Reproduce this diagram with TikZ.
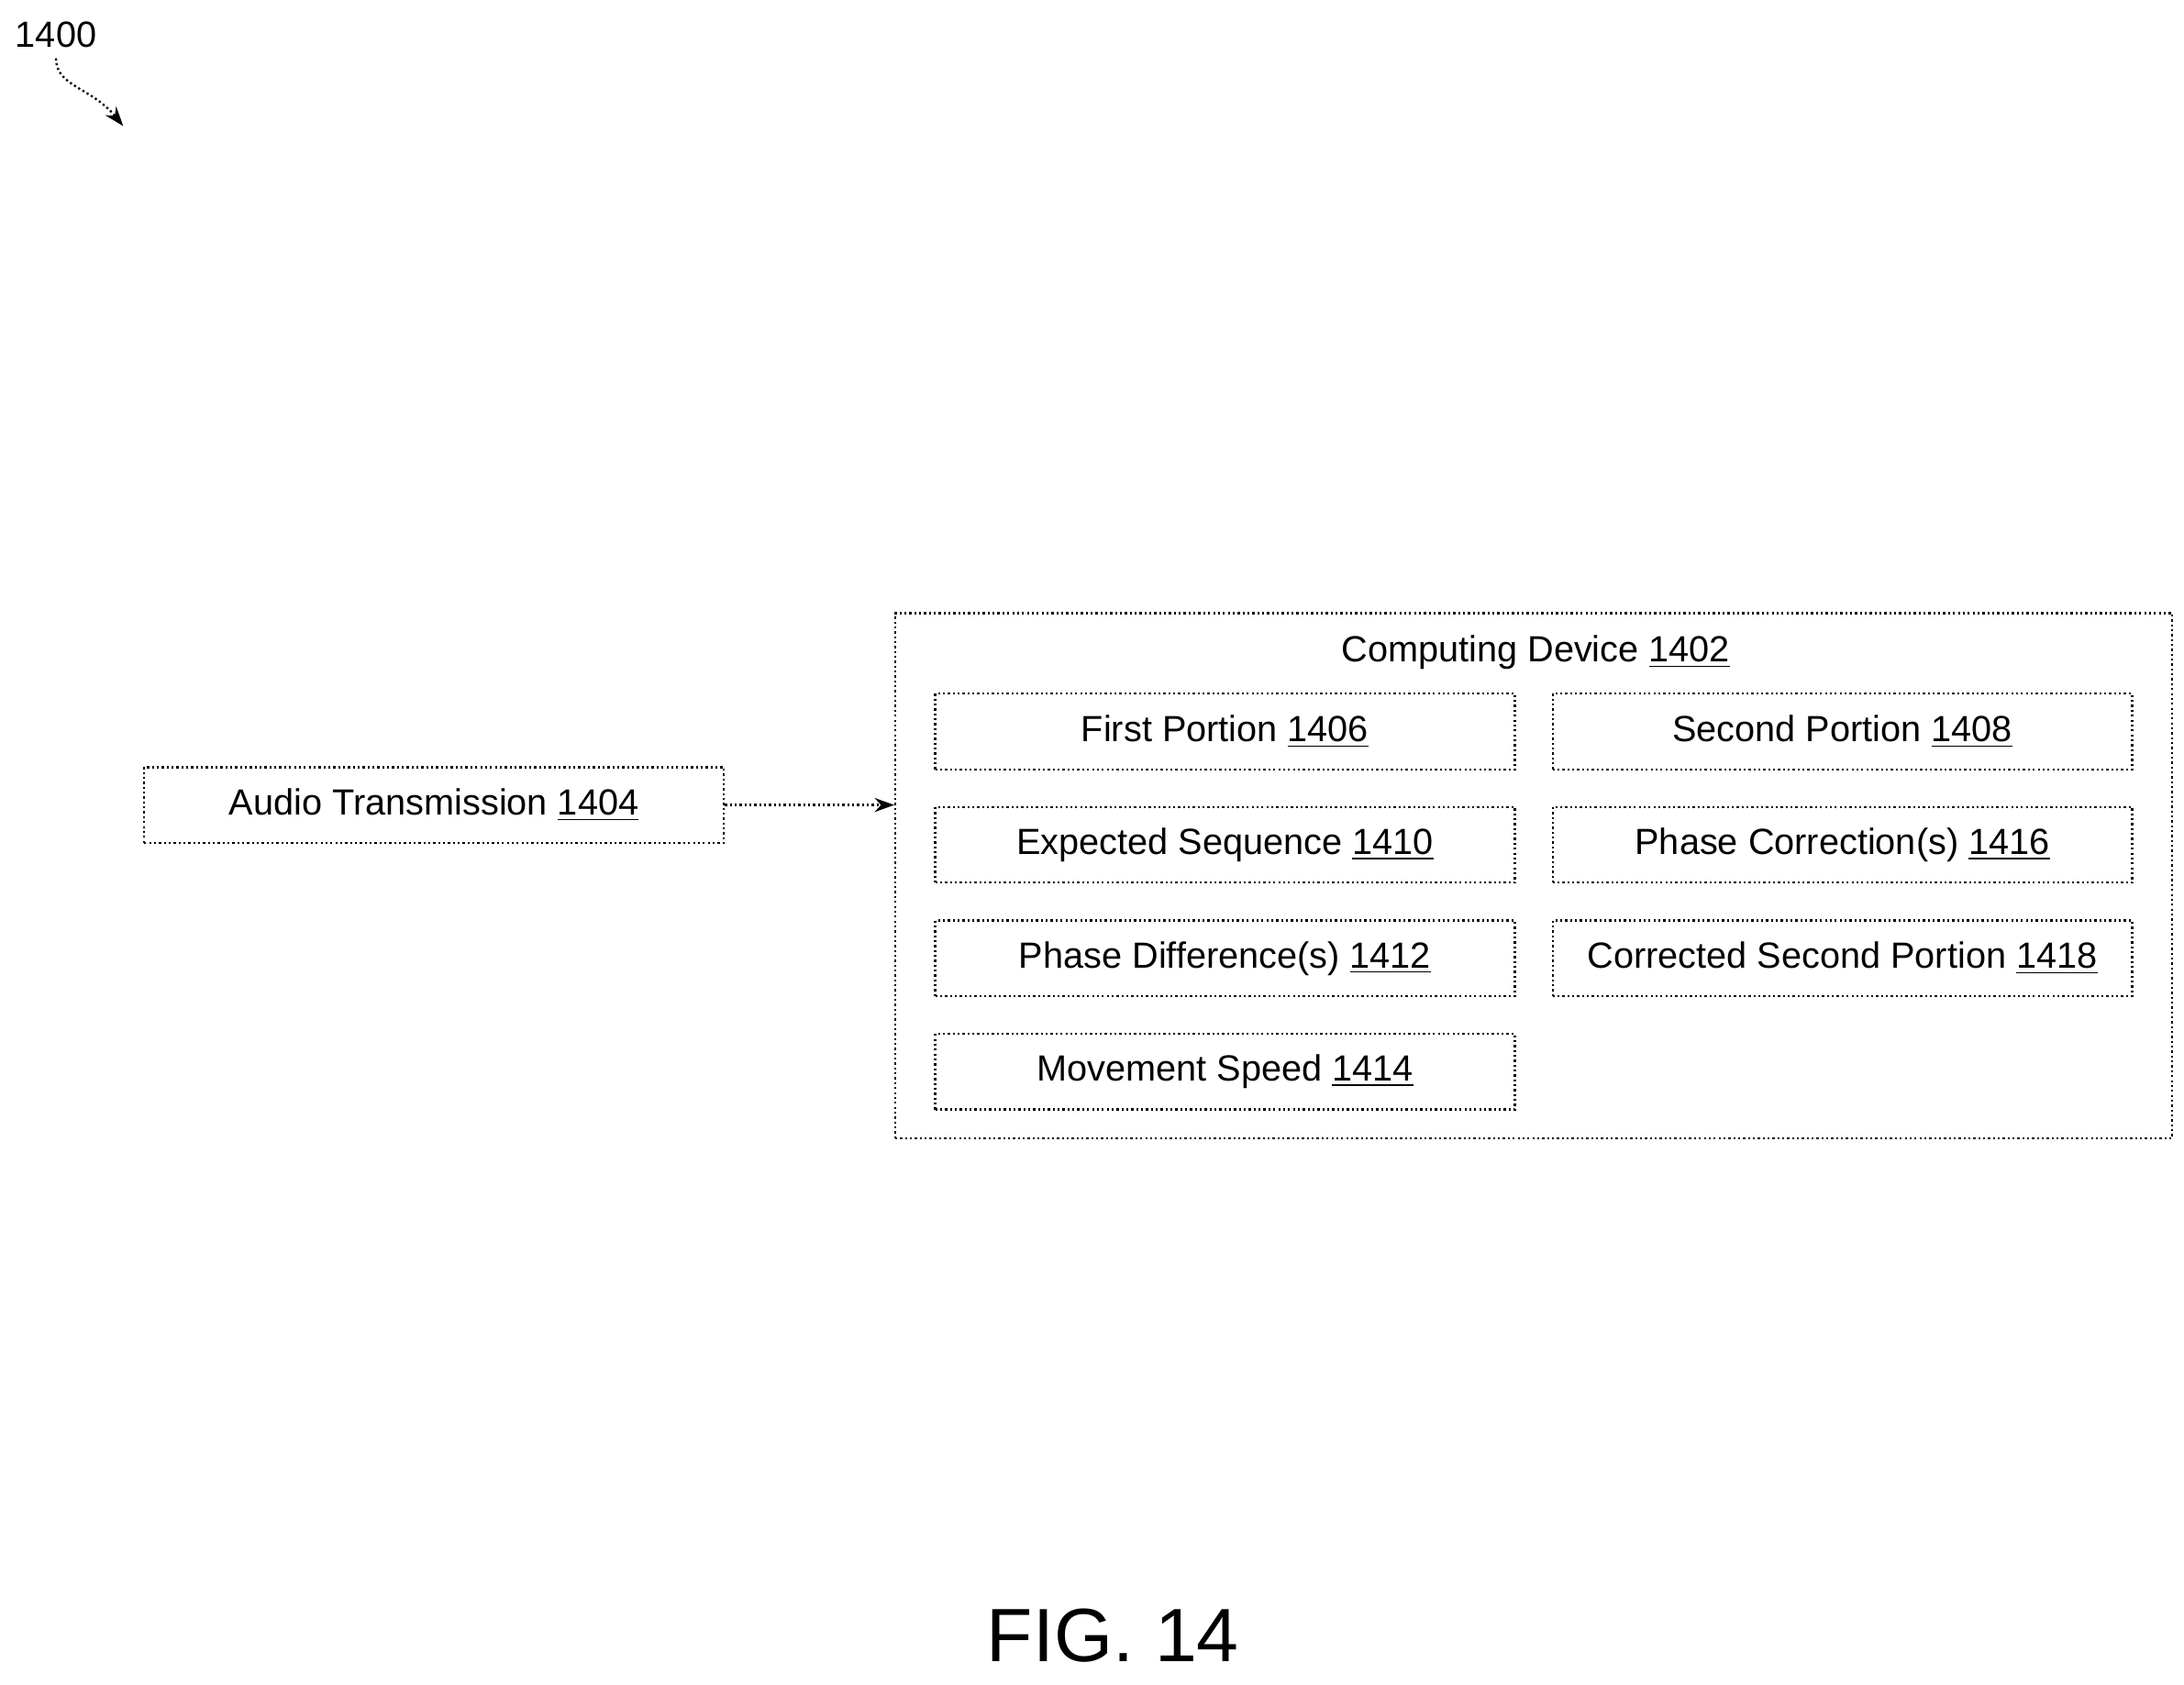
\documentclass[tikz,border=0pt]{standalone}
\usepackage{fontspec}
\setmainfont{Liberation Sans}
\usetikzlibrary{arrows.meta}
\tikzset{every picture/.style={line width=0.75pt}}
\tikzset{
  box/.style={draw, densely dotted, minimum width=207pt, minimum height=27pt, inner sep=0pt, font=\fontsize{13}{15}\selectfont},
  arr/.style={-{Stealth[length=7pt,width=5pt]}, densely dotted}
}
\begin{document}
\begin{tikzpicture}[x=0.5pt,y=-0.5pt]
\useasboundingbox (0,0) rectangle (1560,1203);
% Figure label
\node (lbl) at (40,25) [font=\fontsize{13}{15}\selectfont] {1400};
\coordinate (lblend) at (88,90);
\draw [arr] (lbl.south) .. controls (40,62) and (65,62) .. (lblend);
% Outer box
\node (dev) [draw, densely dotted, minimum width=456pt, minimum height=187.5pt, inner sep=0pt] at (1095.5,625.5) {};
\node (devt) at (1097,466) [font=\fontsize{13}{15}\selectfont] {Computing Device \underline{1402}};
% Audio
\node (audio) [box] at (310,575) {Audio Transmission \underline{1404}};
\draw [arr] (audio.east) -- (dev.west |- audio.east);
% Inner boxes
\node (first) [box] at (875,522.5) {First Portion \underline{1406}};
\node (second) [box] at (1316,522.5) {Second Portion \underline{1408}};
\node (expect) [box] at (875,603.5) {Expected Sequence \underline{1410}};
\node (phcorr) [box] at (1316,603.5) {Phase Correction(s) \underline{1416}};
\node (phdiff) [box] at (875,684.5) {Phase Difference(s) \underline{1412}};
\node (corrsec) [box] at (1316,684.5) {Corrected Second Portion \underline{1418}};
\node (speed) [box] at (875,765.5) {Movement Speed \underline{1414}};
% Caption
\node (fig) at (795,1168) [font=\fontsize{27}{32}\selectfont] {FIG. 14};
\end{tikzpicture}
\end{document}
